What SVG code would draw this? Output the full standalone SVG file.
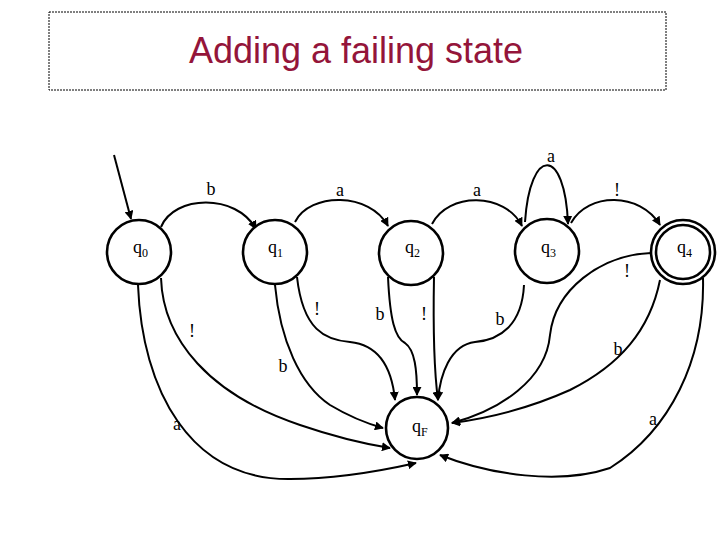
<svg xmlns="http://www.w3.org/2000/svg" width="720" height="540" viewBox="0 0 720 540">
<style>
.st{fill:#fff;stroke:#000;stroke-width:2.6}
.e{fill:none;stroke:#000;stroke-width:2}
.q{font-family:"Liberation Serif",serif;font-size:18px;fill:#000}
.s{font-size:12px}
.l{font-family:"Liberation Serif",serif;font-size:18px;fill:#000;text-anchor:middle}
.title{font-family:"Liberation Sans",Arial,sans-serif;font-size:36px;fill:#94153A;text-anchor:middle}
</style>
<defs>
<marker id="ah" viewBox="0 0 10 10" refX="9" refY="5" markerWidth="4.5" markerHeight="4.5" orient="auto" markerUnits="strokeWidth">
<path d="M0,0 L10,5 L0,10 z" fill="#000"/>
</marker>
</defs>
<rect x="49" y="12" width="617" height="78" fill="none" stroke="#000" stroke-width="1" stroke-dasharray="2,1"/>
<text class="title" x="356" y="63">Adding a failing state</text>

<g id="connectors">
<path class="e" d="M114,155 L131,219" marker-end="url(#ah)"/>
<path class="e" d="M161,227 C174,195 236,193 256,229" marker-end="url(#ah)"/>
<path class="e" d="M295,222 C310,192 370,192 388,226" marker-end="url(#ah)"/>
<path class="e" d="M432,224 C448,192 505,192 522,226" marker-end="url(#ah)"/>
<path class="e" d="M525,222 C530,146 565,146 568,224" marker-end="url(#ah)"/>
<path class="e" d="M571,223 C588,192 640,192 660,225" marker-end="url(#ah)"/>
<path class="e" d="M138,285 C142,390 190,480 290,479 C340,479 385,470 416,463" marker-end="url(#ah)"/>
<path class="e" d="M161,278 C163,340 210,395 300,425 C335,437 365,444 390,448" marker-end="url(#ah)"/>
<path class="e" d="M275,285 C280,340 300,385 330,405 C350,417 365,423 383,428" marker-end="url(#ah)"/>
<path class="e" d="M297,277 C303,330 325,340 350,342 C380,345 392,370 395,400" marker-end="url(#ah)"/>
<path class="e" d="M388,277 C390,320 395,338 405,343 C415,350 417,370 417,395" marker-end="url(#ah)"/>
<path class="e" d="M434,277 C433,330 434,370 438,400" marker-end="url(#ah)"/>
<path class="e" d="M524,285 C522,325 500,340 475,342 C450,345 440,375 438,400" marker-end="url(#ah)"/>
<path class="e" d="M651,253 C600,255 555,290 550,335 C546,380 500,410 452,423" marker-end="url(#ah)"/>
<path class="e" d="M660,280 C650,330 620,365 570,390 C530,408 490,418 452,423" marker-end="url(#ah)"/>
<path class="e" d="M703,278 C705,360 670,430 610,468 C560,485 490,475 440,455" marker-end="url(#ah)"/>
<text class="l" x="211" y="195">b</text>
<text class="l" x="340" y="196">a</text>
<text class="l" x="477" y="196">a</text>
<text class="l" x="551" y="162">a</text>
<text class="l" x="617" y="196">!</text>
<text class="l" x="627" y="277">!</text>
<text class="l" x="500" y="325">b</text>
<text class="l" x="618" y="355">b</text>
<text class="l" x="653" y="425">a</text>
<text class="l" x="317" y="315">!</text>
<text class="l" x="380" y="320">b</text>
<text class="l" x="424" y="320">!</text>
<text class="l" x="283" y="372">b</text>
<text class="l" x="192" y="337">!</text>
<text class="l" x="177" y="430">a</text>
</g>

<g id="q0"><circle class="st" cx="139" cy="252" r="32"/><text class="q" x="133" y="253">q<tspan class="s" dy="4">0</tspan></text></g>
<g id="q1"><circle class="st" cx="275" cy="252" r="32"/><text class="q" x="268" y="253">q<tspan class="s" dy="4">1</tspan></text></g>
<g id="q2"><circle class="st" cx="411" cy="253" r="32"/><text class="q" x="405" y="253">q<tspan class="s" dy="4">2</tspan></text></g>
<g id="q3"><circle class="st" cx="547" cy="251" r="32"/><text class="q" x="541" y="253">q<tspan class="s" dy="4">3</tspan></text></g>
<g id="q4"><circle class="st" cx="683" cy="252" r="32"/><circle class="st" cx="683" cy="252" r="27" fill="none"/><text class="q" x="677" y="253">q<tspan class="s" dy="4">4</tspan></text></g>
<g id="qF"><circle class="st" cx="417" cy="428" r="31"/><text class="q" x="412" y="432">q<tspan class="s" dy="4">F</tspan></text></g>
</svg>
